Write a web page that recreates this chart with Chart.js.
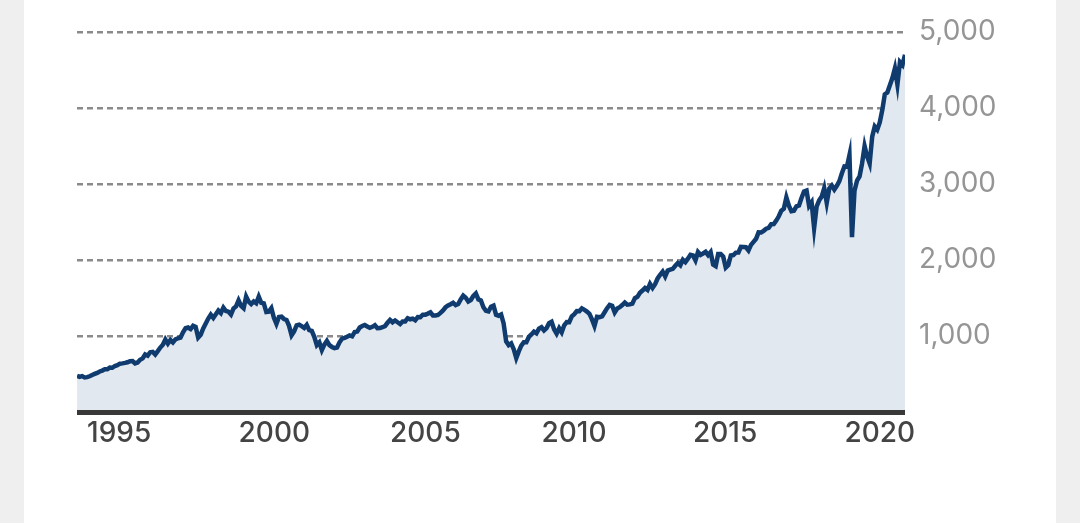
<!DOCTYPE html>
<html>
<head>
<meta charset="utf-8">
<script src="https://cdn.jsdelivr.net/npm/chart.js@4.4.1/dist/chart.umd.min.js"></script>
<style>
  html, body { margin: 0; padding: 0; background: #efefef; }
  .card { position: absolute; left: 24px; top: 0; width: 1032px; height: 523px; background: #fff; }
  canvas { display: block; }
</style>
</head>
<body>
<div class="card">
  <canvas id="chart" width="1032" height="523"></canvas>
</div>
<script>
// monthly closes, first point = end of Aug 1994
const startYear = 1994
const startMonth = 8
const monthlyClose = [
  475, 462, 472, 454, 459,
  470, 487, 501, 515, 533, 545, 562, 562, 584, 582, 605, 616,          // 1995
  636, 640, 646, 654, 669, 671, 640, 652, 687, 705, 757, 741,          // 1996
  786, 791, 757, 801, 848, 885, 954, 900, 947, 915, 955, 970,          // 1997
  980, 1049, 1102, 1112, 1091, 1134, 1121, 980, 1017, 1099, 1164, 1229, // 1998
  1280, 1238, 1286, 1335, 1302, 1373, 1329, 1320, 1283, 1363, 1389, 1469, // 1999
  1395, 1366, 1520, 1452, 1421, 1455, 1431, 1518, 1437, 1429, 1315, 1320, // 2000
  1366, 1240, 1160, 1250, 1256, 1224, 1211, 1134, 1010, 1060, 1140, 1148, // 2001
  1130, 1107, 1147, 1077, 1067, 990, 880, 916, 815, 886, 936, 880,     // 2002
  856, 841, 848, 917, 964, 975, 990, 1008, 996, 1051, 1058, 1112,      // 2003
  1131, 1145, 1126, 1107, 1121, 1141, 1102, 1104, 1115, 1130, 1174, 1212, // 2004
  1181, 1204, 1181, 1157, 1192, 1191, 1234, 1220, 1229, 1207, 1250, 1248, // 2005
  1280, 1281, 1295, 1311, 1270, 1270, 1277, 1304, 1336, 1378, 1401, 1418, // 2006
  1438, 1407, 1421, 1482, 1531, 1503, 1455, 1474, 1527, 1560, 1481, 1468, // 2007
  1379, 1331, 1323, 1386, 1400, 1280, 1267, 1283, 1166, 930, 880, 903,  // 2008
  826, 710, 798, 873, 919, 919, 988, 1021, 1057, 1036, 1096, 1115,     // 2009
  1074, 1105, 1169, 1187, 1089, 1031, 1102, 1049, 1141, 1183, 1181, 1258, // 2010
  1286, 1327, 1326, 1364, 1345, 1321, 1292, 1219, 1131, 1253, 1247, 1258, // 2011
  1312, 1366, 1409, 1398, 1310, 1362, 1379, 1407, 1441, 1412, 1416, 1426, // 2012
  1498, 1515, 1569, 1598, 1631, 1606, 1686, 1633, 1682, 1757, 1806, 1848, // 2013
  1783, 1860, 1872, 1884, 1924, 1960, 1931, 2003, 1972, 2018, 2068, 2059, // 2014
  1995, 2105, 2068, 2086, 2107, 2063, 2104, 1940, 1920, 2079, 2080, 2044, // 2015
  1900, 1932, 2060, 2065, 2097, 2099, 2174, 2171, 2168, 2126, 2199, 2239, // 2016
  2279, 2364, 2363, 2384, 2412, 2423, 2470, 2472, 2519, 2575, 2648, 2674, // 2017
  2824, 2714, 2641, 2648, 2705, 2718, 2816, 2902, 2914, 2712, 2760, 2420, // 2018
  2704, 2785, 2834, 2946, 2752, 2942, 2980, 2927, 2977, 3038, 3141, 3231, // 2019
  3226, 3380, 2300, 2912, 3044, 3100, 3271, 3500, 3363, 3270, 3622, 3756, // 2020
  3714, 3811, 3973, 4181, 4204, 4298, 4395, 4523, 4308, 4605, 4567, 4700  // 2021
]
const yearTicks = [1995, 2000, 2005, 2010, 2015, 2020]
const valueTicks = [0, 1000, 2000, 3000, 4000, 5000]

const points = monthlyClose.map((v, i) => ({ x: startYear + (startMonth + i) / 12, y: v }))
const xMin = points[0].x
const xMax = points[points.length - 1].x

// heavy zero line, drawn over the fill from the scales
const baseline = {
  id: 'baseline',
  afterDatasetsDraw(chart) {
    const { ctx, scales: { x, y } } = chart
    const yy = y.getPixelForValue(0)
    ctx.save()
    ctx.strokeStyle = '#383838'
    ctx.lineWidth = 5
    ctx.beginPath()
    ctx.moveTo(x.left, yy + 0.5)
    ctx.lineTo(x.right, yy + 0.5)
    ctx.stroke()
    ctx.restore()
  },
}

const ctx = document.getElementById('chart').getContext('2d')
new Chart(ctx, {
  type: 'line',
  data: {
    datasets: [{
      data: points,
      borderColor: '#0f3b6f',
      borderWidth: 4.5,
      backgroundColor: '#e2e8f0',
      fill: 'origin',
      pointRadius: 0,
      tension: 0,
      borderJoinStyle: 'miter',
    }],
  },
  options: {
    responsive: false,
    animation: false,
    layout: { padding: { left: 53, top: 32, right: 0, bottom: 0 } },
    plugins: { legend: { display: false }, tooltip: { enabled: false } },
    scales: {
      x: {
        type: 'linear',
        min: xMin,
        max: xMax,
        afterBuildTicks: (scale) => { scale.ticks = yearTicks.map(v => ({ value: v })) },
        afterFit: (scale) => { scale.height = 111 },
        grid: { display: false, drawTicks: false },
        border: { display: false },
        ticks: {
          align: 'start',
          padding: 5,
          color: '#444',
          font: { family: 'Inter', size: 28, weight: 500 },
          callback: (v) => String(v),
        },
      },
      y: {
        position: 'right',
        min: 0,
        max: 5000,
        afterBuildTicks: (scale) => { scale.ticks = valueTicks.map(v => ({ value: v })) },
        afterFit: (scale) => { scale.width = 151 },
        grid: {
          drawTicks: false,
          color: (c) => c.tick && c.tick.value === 0 ? 'rgba(0,0,0,0)' : '#8a8a8a',
          lineWidth: 2.5,
        },
        border: { display: false, dash: [6, 4] },
        ticks: {
          padding: 14,
          color: '#959595',
          font: { family: 'Inter', size: 28 },
          callback: (v) => v === 0 ? '' : v.toLocaleString('en-US'),
        },
      },
    },
  },
  plugins: [baseline],
})
</script>
</body>
</html>
